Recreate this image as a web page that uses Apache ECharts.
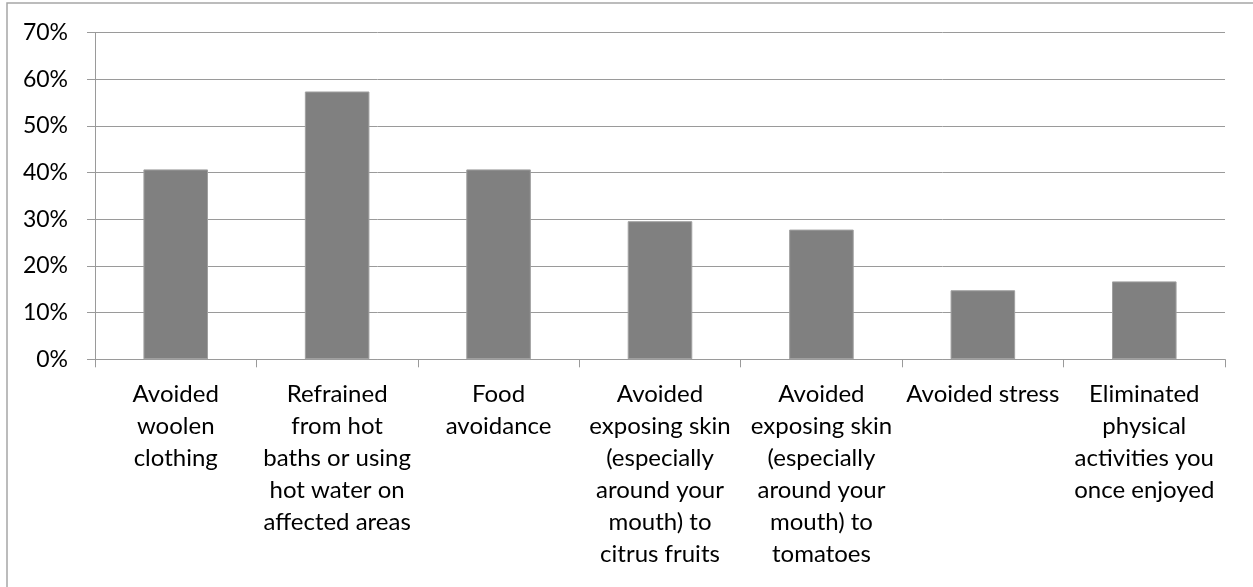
<!DOCTYPE html>
<html>
<head>
<meta charset="utf-8">
<script src="https://cdn.jsdelivr.net/npm/echarts@6/dist/echarts.min.js"></script>
<style>
html,body{margin:0;padding:0;background:#fff;}
#chart{width:1253px;height:587px;}
</style>
</head>
<body>
<div id="chart"></div>
<script>
const categories = [
  "Avoided\nwoolen\nclothing",
  "Refrained\nfrom hot\nbaths or using\nhot water on\naffected areas",
  "Food\navoidance",
  "Avoided\nexposing skin\n(especially\naround your\nmouth) to\ncitrus fruits",
  "Avoided\nexposing skin\n(especially\naround your\nmouth) to\ntomatoes",
  "Avoided stress",
  "Eliminated\nphysical\nactivities you\nonce enjoyed"
];
const values = [40.7, 57.4, 40.7, 29.6, 27.8, 14.8, 16.7];
const yMin = 0, yMax = 70, yStep = 10;

const FONT = 'Lato';
const chart = echarts.init(document.getElementById('chart'), null, {renderer: 'canvas'});
chart.setOption({
  animation: false,
  backgroundColor: '#ffffff',
  graphic: [{
    type: 'rect',
    shape: {x: 7, y: 3, width: 1400, height: 800},
    style: {fill: 'none', stroke: '#a6a6a6', lineWidth: 1.5},
    silent: true
  }],
  grid: {left: 95, right: 28, top: 32.7, bottom: 227.7, containLabel: false},
  xAxis: {
    type: 'category',
    data: categories,
    axisLine: {show: true, lineStyle: {color: '#9a9a9a', width: 1}},
    axisTick: {show: true, length: 8, alignWithLabel: false, lineStyle: {color: '#9a9a9a'}},
    axisLabel: {
      interval: 0,
      margin: 19,
      color: '#000',
      fontFamily: FONT,
      fontSize: 24,
      lineHeight: 32,
      verticalAlign: 'top',
      align: 'center'
    }
  },
  yAxis: {
    type: 'value',
    min: yMin, max: yMax, interval: yStep,
    axisLine: {show: true, lineStyle: {color: '#9a9a9a', width: 1}},
    axisTick: {show: true, length: 8, lineStyle: {color: '#9a9a9a'}},
    splitLine: {show: true, lineStyle: {color: '#9a9a9a', width: 1}},
    axisLabel: {
      margin: 27,
      color: '#000',
      fontFamily: FONT,
      fontSize: 23,
      formatter: '{value}%'
    }
  },
  series: [{
    type: 'bar',
    data: values,
    barWidth: '40%',
    itemStyle: {color: '#808080', borderColor: '#a0a0a0', borderWidth: 1},
    silent: true
  }]
});
</script>
</body>
</html>
